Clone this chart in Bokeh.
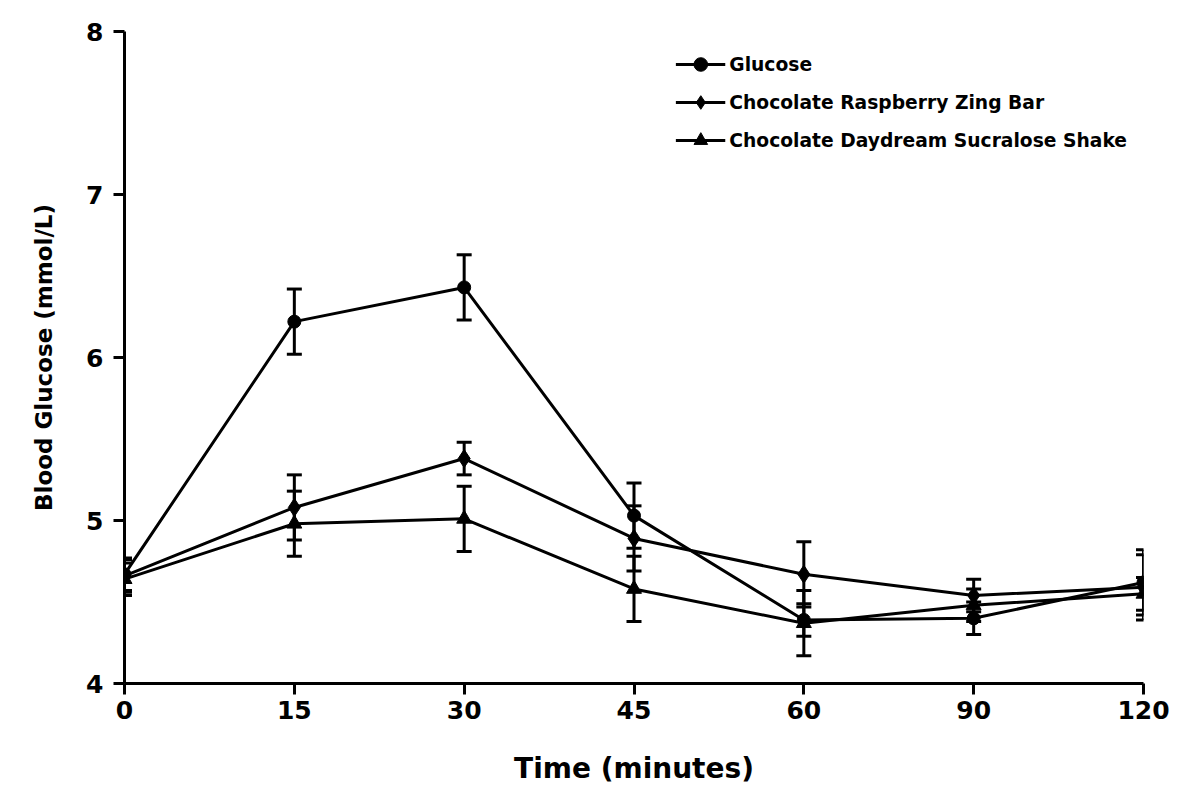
from bokeh.plotting import figure
from bokeh.models import ColumnDataSource, Whisker, TeeHead, Legend, LegendItem, FixedTicker, Range1d
from bokeh.embed import file_html
from bokeh.resources import INLINE

time_labels = ["0", "15", "30", "45", "60", "90", "120"]
positions = [0, 1, 2, 3, 4, 5, 6]

glucose = [4.67, 6.22, 6.43, 5.03, 4.39, 4.40, 4.62]
glucose_se = [0.10, 0.20, 0.20, 0.20, 0.10, 0.10, 0.20]

bar = [4.66, 5.08, 5.38, 4.89, 4.67, 4.54, 4.59]
bar_se = [0.10, 0.20, 0.10, 0.20, 0.20, 0.10, 0.20]

shake = [4.64, 4.98, 5.01, 4.58, 4.37, 4.48, 4.55]
shake_se = [0.10, 0.20, 0.20, 0.20, 0.20, 0.10, 0.10]

series = [
    ("Glucose", glucose, glucose_se, "circle", 13),
    ("Chocolate Raspberry Zing Bar", bar, bar_se, "diamond", 18),
    ("Chocolate Daydream Sucralose Shake", shake, shake_se, "triangle", 15),
]

FONT = "DejaVu Sans"

p = figure(width=1184, height=792, output_backend="svg", toolbar_location=None,
           x_range=Range1d(0, 6), y_range=Range1d(4, 8),
           min_border_left=124, min_border_right=41, min_border_top=31, min_border_bottom=109)
p.outline_line_color = None
p.xgrid.visible = False
p.ygrid.visible = False
p.background_fill_color = "white"

items = []
for name, vals, se, marker, size in series:
    src = ColumnDataSource(dict(
        x=positions, y=vals,
        upper=[v + s for v, s in zip(vals, se)],
        lower=[v - s for v, s in zip(vals, se)],
    ))
    w = Whisker(source=src, base="x", upper="upper", lower="lower",
                line_color="black", line_width=3,
                upper_head=TeeHead(size=15, line_width=3, line_color="black"),
                lower_head=TeeHead(size=15, line_width=3, line_color="black"))
    p.add_layout(w)
    l = p.line("x", "y", source=src, line_color="black", line_width=3)
    s = p.scatter("x", "y", source=src, marker=marker, size=size,
                  fill_color="black", line_color="black")
    items.append(LegendItem(label=name, renderers=[l, s]))

legend = Legend(items=items, location="top_right")
legend.label_text_font = FONT
legend.label_text_font_style = "bold"
legend.label_text_font_size = "18.7px"
legend.label_text_color = "black"
legend.glyph_width = 50
legend.glyph_height = 34
legend.label_height = 34
legend.label_standoff = 4
legend.spacing = 4
legend.border_line_color = None
legend.background_fill_alpha = 0
legend.margin = 16
legend.padding = 8
p.add_layout(legend)

for ax in (p.xaxis[0], p.yaxis[0]):
    ax.axis_line_width = 3
    ax.axis_line_color = "black"
    ax.major_tick_line_width = 3
    ax.major_tick_line_color = "black"
    ax.major_tick_out = 11
    ax.major_tick_in = 0
    ax.minor_tick_line_color = None
    ax.major_label_text_font = FONT
    ax.major_label_text_font_style = "bold"
    ax.major_label_text_font_size = "25px"
    ax.major_label_text_color = "black"
    ax.axis_label_text_font = FONT
    ax.axis_label_text_font_style = "bold"
    ax.axis_label_text_color = "black"

p.xaxis.ticker = FixedTicker(ticks=positions)
p.xaxis.major_label_overrides = {pos: lab for pos, lab in zip(positions, time_labels)}
p.xaxis.axis_label = "Time (minutes)"
p.xaxis.axis_label_text_font_size = "28px"
p.xaxis.major_label_standoff = 6
p.xaxis.axis_label_standoff = 30

p.yaxis.ticker = FixedTicker(ticks=[4, 5, 6, 7, 8])
p.yaxis.axis_label = "Blood Glucose (mmol/L)"
p.yaxis.axis_label_text_font_size = "23px"
p.yaxis.major_label_standoff = 10
p.yaxis.axis_label_standoff = 26

open("out.html", "w").write(file_html(p, INLINE))
